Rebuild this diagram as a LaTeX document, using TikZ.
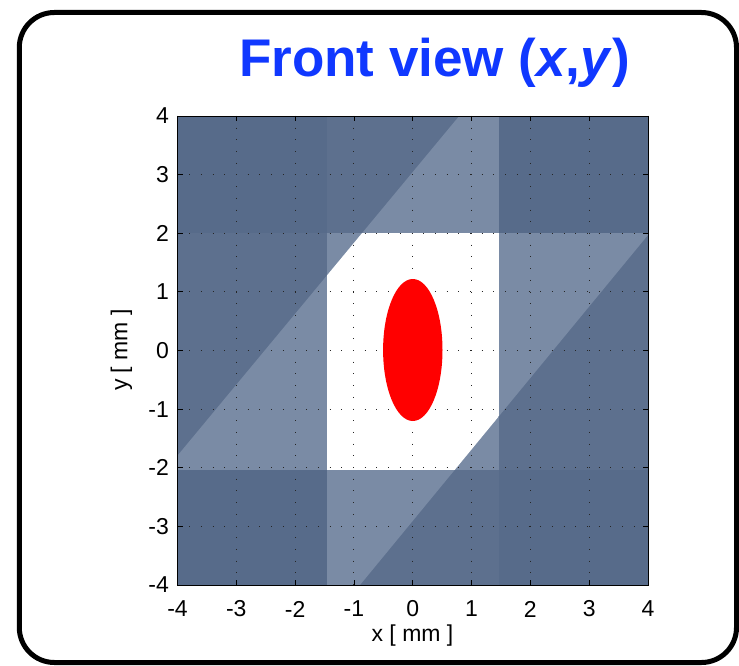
\documentclass[tikz,border=0pt]{standalone}
\usepackage{fontspec}
\setmainfont{Liberation Sans}
\definecolor{tzero}{RGB}{87,107,138}
\definecolor{tonec}{RGB}{93,112,142}
\definecolor{ttwo}{RGB}{122,139,165}
\definecolor{ttl}{RGB}{16,56,255}
\tikzset{
  frame/.style={line width=5pt, rounded corners=35pt},
  griddot/.style={draw=black!85, line width=0.9pt, dash pattern=on 0.9pt off 10.8pt},
  tickmark/.style={draw=black, line width=0.8pt},
  ticklab/.style={font=\fontsize{23}{27}\selectfont, inner sep=0pt},
  axlab/.style={font=\fontsize{23}{27}\selectfont, inner sep=0pt},
}
\begin{document}
\begin{tikzpicture}[x=1pt,y=-1pt]
\useasboundingbox (0,0) rectangle (739,666);
% frame
\draw[frame] (19.3,12.5) rectangle (736.5,662.5);
% regions
\fill[tzero] (177.5,116) rectangle (648,585);
\fill[tonec] (326.7,116) rectangle (499,585);
\fill[tonec] (177.5,232.5) rectangle (648,470);
\fill[ttwo] (326.7,232.5) rectangle (499,470);
\begin{scope}
  \clip (177.5,455.6) -- (459.2,116) -- (648,116) -- (648,235) -- (360,585) -- (177.5,585) -- cycle;
  \fill[ttwo] (326.7,116) rectangle (499,585);
  \fill[ttwo] (177.5,232.5) rectangle (648,470);
  \fill[white] (326.7,232.5) rectangle (499,470);
\end{scope}
% grid
\foreach \i in {0,...,8} {
  \draw[griddot] ({177.5+58.8125*\i},116) -- ({177.5+58.8125*\i},585);
  \draw[griddot] (177.5,{116+58.625*\i}) -- (648,{116+58.625*\i});
}
% ellipse
\fill[red] (412.8,350) ellipse [x radius=29.7, y radius=71];
% ticks
\foreach \i in {0,...,8} {
  \draw[tickmark] ({177.5+58.8125*\i},116) -- ({177.5+58.8125*\i},121);
  \draw[tickmark] ({177.5+58.8125*\i},585) -- ({177.5+58.8125*\i},580);
  \draw[tickmark] (177.5,{116+58.625*\i}) -- (183,{116+58.625*\i});
  \draw[tickmark] (648,{116+58.625*\i}) -- (642.5,{116+58.625*\i});
}
\draw[line width=0.8pt] (177.5,116) rectangle (648,585);
% tick labels
\foreach \i [evaluate=\i as \v using int(\i-4), evaluate=\i as \w using int(4-\i)] in {0,...,8} {
  \node[ticklab] (xt\i) at ({177.5+58.8125*\i},609) {\v};
  \node[ticklab, anchor=east] (yt\i) at (169,{116+58.625*\i}) {\w};
}
% axis labels
\node[axlab] (xlab) at (412.5,636) {x [ mm ]};
\node[axlab, rotate=90] (ylab) at (121.5,350) {y [ mm ]};
% title
\node[anchor=base, text=ttl, inner sep=0pt, font=\fontsize{53}{60}\selectfont\bfseries] (title) at (434.5,77) {Front view (\textit{x},\textit{y})};
\end{tikzpicture}
\end{document}
